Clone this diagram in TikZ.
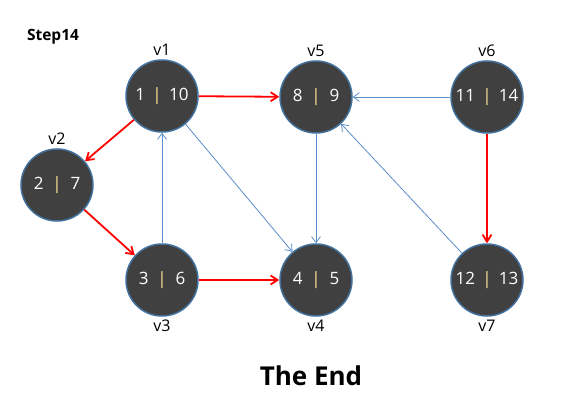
\documentclass[tikz,border=0pt]{standalone}
\usepackage{fontspec}
\setmainfont{Open Sans}
\usepackage{xcolor}
\usetikzlibrary{arrows.meta, positioning}
\definecolor{vfill}{HTML}{404040}
\definecolor{vedge}{HTML}{41719C}
\definecolor{tblue}{HTML}{5B8DC9}
\definecolor{bar}{HTML}{FFE699}

\begin{document}
\begin{tikzpicture}[
    x=1pt, y=-1pt,
    every node/.style={font=\fontsize{16}{18}\selectfont},
    vert/.style={
        circle,
        draw=vedge,
        line width=1.5pt,
        fill=vfill,
        text=white,
        minimum size=72pt,
        inner sep=0pt,
        font=\fontsize{17}{19}\selectfont
    },
    tree/.style={-{Straight Barb[length=7pt,width=9pt]}, red, line width=1.8pt},
    back/.style={-{Straight Barb[length=6pt,width=9pt]}, tblue, line width=0.8pt}
]
\useasboundingbox (0,0) rectangle (561,406);

\node[font=\fontsize{15.5}{18}\selectfont\bfseries] (title) at (53,37) {Step14};

\node[vert] (v1) at (162,96) {1 \,\textcolor{bar}{|}\, 10};
\node[vert] (v5) at (316,97) {8 \ \textcolor{bar}{|} \ 9};
\node[vert] (v6) at (487,97) {11 \,\textcolor{bar}{|}\, 14};
\node[vert] (v2) at (57,185) {2 \ \textcolor{bar}{|} \ 7};
\node[vert] (v3) at (162,280) {3 \ \textcolor{bar}{|} \ 6};
\node[vert] (v4) at (316,280) {4 \ \textcolor{bar}{|} \ 5};
\node[vert] (v7) at (487,280) {12 \,\textcolor{bar}{|}\, 13};

\node[above=0pt of v1] (l1) {v1};
\node[above=0pt of v5] (l5) {v5};
\node[above=0pt of v6] (l6) {v6};
\node[above=0pt of v2] (l2) {v2};
\node[below=0pt of v3] (l3) {v3};
\node[below=0pt of v4] (l4) {v4};
\node[below=0pt of v7] (l7) {v7};

\node[font=\fontsize{26}{30}\selectfont\bfseries] (theend) at (311,376) {The End};

\draw[tree] (v1) -- (v5);
\draw[tree] (v1) -- (v2);
\draw[tree] (v2) -- (v3);
\draw[tree] (v3) -- (v4);
\draw[tree] (v6) -- (v7);

\draw[back] (v6) -- (v5);
\draw[back] (v3) -- (v1);
\draw[back] (v1) -- (v4);
\draw[back] (v5) -- (v4);
\draw[back] (v7) -- (v5);

\end{tikzpicture}
\end{document}
